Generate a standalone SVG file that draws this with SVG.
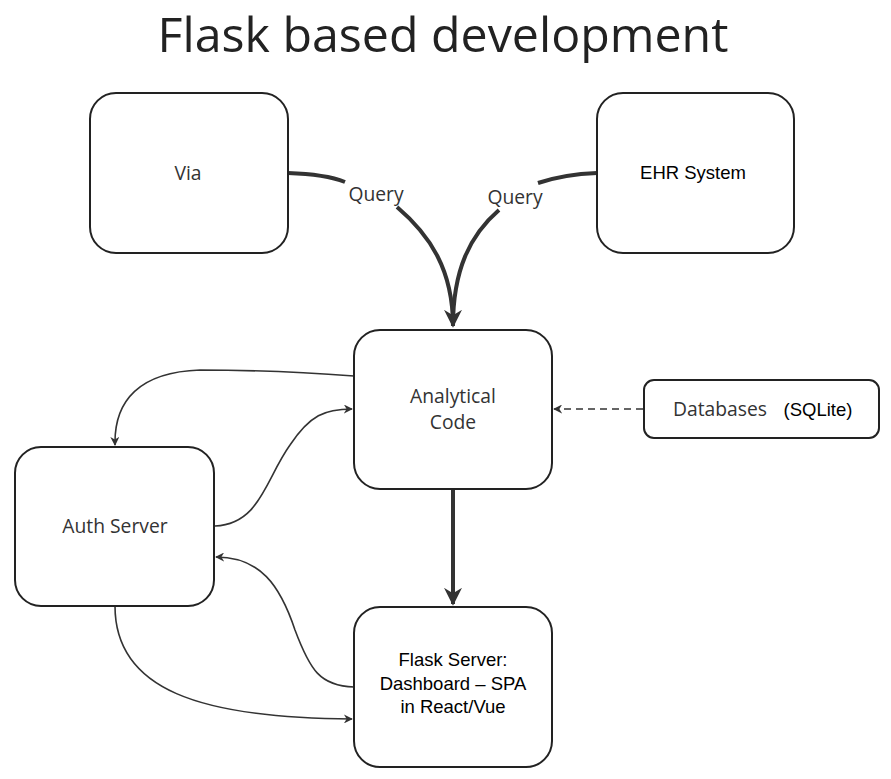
<svg xmlns="http://www.w3.org/2000/svg" width="891" height="779" viewBox="0 0 891 779">
<style>
.node{fill:#fff;stroke:#222;stroke-width:2}
.os{font-family:"Open Sans",sans-serif;fill:#333;font-size:19.3px;text-anchor:middle}
.ar{font-family:"Liberation Sans",Arial,sans-serif;fill:#000;font-size:18.5px;text-anchor:middle}
.thin{fill:none;stroke:#333;stroke-width:1.6}
.thick{fill:none;stroke:#333;stroke-width:4}
</style>
<defs>
<marker id="a" viewBox="0 0 10 10" refX="9" refY="5" markerWidth="9" markerHeight="9" markerUnits="userSpaceOnUse" orient="auto"><path d="M0,0 L10,5 L0,10 L3,5 Z" fill="#333"/></marker>
<marker id="ab" viewBox="0 0 10 10" refX="9" refY="5" markerWidth="18" markerHeight="18" markerUnits="userSpaceOnUse" orient="auto"><path d="M0,0 L10,5 L0,10 L3,5 Z" fill="#333"/></marker>
</defs>
<rect width="891" height="779" fill="#fff"/>
<text x="443" y="52" font-family="'Open Sans',sans-serif" font-size="48.3" fill="#222" text-anchor="middle">Flask based development</text>
<g id="connectors">
<path class="thick" d="M288,173 C320,174 335,178 345,182"/>
<path class="thick" d="M397,207 C430,235 453,270 453,326" marker-end="url(#ab)"/>
<path class="thick" d="M597,173 C570,174 553,178 538,183"/>
<path class="thick" d="M499,210 C470,235 453,270 453,326"/>
<path class="thick" d="M453,489 L453,604" marker-end="url(#ab)"/>
<path class="thin" d="M643,409 L554,409" stroke-dasharray="7,5" marker-end="url(#a)"/>
<path class="thin" d="M354,376 C300,372 260,370 200,370 C140,372 114,400 115,445" marker-end="url(#a)"/>
<path class="thin" d="M215,526 C260,524 265,480 290,445 C310,415 325,409 352,409" marker-end="url(#a)"/>
<path class="thin" d="M354,687 C320,686 310,670 295,630 C280,585 260,557 216,557" marker-end="url(#a)"/>
<path class="thin" d="M115,606 C115,690 200,718 352,719" marker-end="url(#a)"/>
</g>
<g id="via"><rect class="node" x="90" y="93" width="198" height="160" rx="26"/><text class="os" x="188" y="180">Via</text></g>
<g id="ehr"><rect class="node" x="597" y="93" width="197" height="160" rx="26"/><text class="ar" x="693" y="179">EHR System</text></g>
<g id="analytical"><rect class="node" x="354" y="330" width="198" height="159" rx="26"/><text class="os" x="453" y="403">Analytical</text><text class="os" x="453" y="429">Code</text></g>
<g id="databases"><rect class="node" x="644" y="380" width="235" height="58" rx="10"/><text class="os" x="720" y="416">Databases</text><text class="ar" x="818" y="416">(SQLite)</text></g>
<g id="auth"><rect class="node" x="15" y="447" width="199" height="159" rx="26"/><text class="os" x="115" y="533">Auth Server</text></g>
<g id="flask"><rect class="node" x="354" y="607" width="198" height="160" rx="26"/><text class="ar" x="453" y="666">Flask Server:</text><text class="ar" x="453" y="690">Dashboard – SPA</text><text class="ar" x="453" y="713">in React/Vue</text></g>
<text class="os" x="376" y="201">Query</text>
<text class="os" x="515" y="204">Query</text>
</svg>
